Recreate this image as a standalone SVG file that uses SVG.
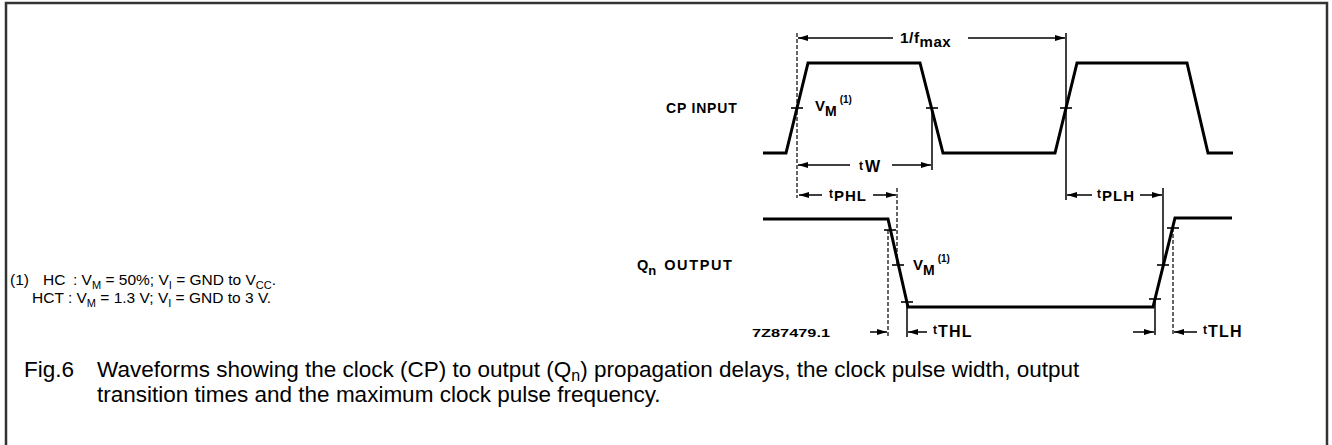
<svg xmlns="http://www.w3.org/2000/svg" width="1332" height="445" viewBox="0 0 1332 445">
<style>
.frame{fill:none;stroke:#333;stroke-width:2.5}
.wave{fill:none;stroke:#000;stroke-width:3;stroke-linejoin:miter}
.dim{fill:none;stroke:#000;stroke-width:1.5}
.dash{fill:none;stroke:#000;stroke-width:1.2;stroke-dasharray:4 2}
.tick{fill:none;stroke:#000;stroke-width:1.6}
.lbl{font-family:"Liberation Sans",Arial,sans-serif;font-weight:bold;fill:#000}
.txt{font-family:"Liberation Sans",Arial,sans-serif;fill:#000}
</style>
<defs>
<marker id="ah" viewBox="0 0 10 6" refX="10" refY="3" markerWidth="10" markerHeight="6" markerUnits="userSpaceOnUse" orient="auto">
<path d="M0,0 L10,3 L0,6 Z" fill="#000"/>
</marker>
</defs>
<g id="frame">
<polyline class="frame" points="6,445 6,3 1327,3 1327,445"/>
</g>
<g id="cp-input">
<polyline class="wave" points="763,153 786,153 808,63 920,63 943,153 1055,153 1077,63 1187,63 1208,153 1233,153"/>
<line class="tick" x1="791" y1="108" x2="803" y2="108"/>
<line class="tick" x1="926" y1="108" x2="938" y2="108"/>
<line class="tick" x1="1060" y1="108" x2="1072" y2="108"/>
<text class="lbl" x="666" y="113" font-size="14" letter-spacing="0.8">CP INPUT</text>
<text class="lbl" x="815" y="111" font-size="15">V<tspan font-size="14" dy="5">M</tspan><tspan font-size="10" dx="3" dy="-13">(1)</tspan></text>
</g>
<g id="q-output">
<polyline class="wave" points="763,219 888,219 908,307 1153,307 1175,218 1232,218"/>
<line class="tick" x1="884" y1="230" x2="896" y2="230"/>
<line class="tick" x1="892" y1="265" x2="904" y2="265"/>
<line class="tick" x1="901" y1="302" x2="913" y2="302"/>
<line class="tick" x1="1167" y1="228" x2="1179" y2="228"/>
<line class="tick" x1="1157" y1="265" x2="1169" y2="265"/>
<line class="tick" x1="1149" y1="299" x2="1161" y2="299"/>
<text class="lbl" x="637" y="270" font-size="14.5">Q<tspan font-size="13" dy="5">n</tspan><tspan dx="8" dy="-5" letter-spacing="1.6">OUTPUT</tspan></text>
<text class="lbl" x="913" y="270" font-size="15">V<tspan font-size="14" dy="5">M</tspan><tspan font-size="10" dx="3" dy="-13">(1)</tspan></text>
</g>
<g id="connectors">
<line class="dash" x1="797" y1="33" x2="797" y2="198"/>
<line class="dim" x1="932" y1="108" x2="932" y2="170"/>
<line class="dim" x1="1066" y1="33" x2="1066" y2="200"/>
<line class="dim" x1="1163" y1="188" x2="1163" y2="265"/>
<line class="dash" x1="897" y1="188" x2="897" y2="265"/>
<line class="dash" x1="888" y1="230" x2="888" y2="337"/>
<line class="dim" x1="907" y1="302" x2="907" y2="337"/>
<line class="dim" x1="1155" y1="299" x2="1155" y2="335"/>
<line class="dash" x1="1173" y1="228" x2="1173" y2="335"/>
<line class="dim" x1="893" y1="38" x2="798" y2="38" marker-end="url(#ah)"/>
<line class="dim" x1="968" y1="38" x2="1065" y2="38" marker-end="url(#ah)"/>
<line class="dim" x1="850" y1="165" x2="798" y2="165" marker-end="url(#ah)"/>
<line class="dim" x1="892" y1="165" x2="931" y2="165" marker-end="url(#ah)"/>
<line class="dim" x1="822" y1="195" x2="799" y2="195" marker-end="url(#ah)"/>
<line class="dim" x1="873" y1="195" x2="896" y2="195" marker-end="url(#ah)"/>
<line class="dim" x1="1092" y1="195" x2="1067" y2="195" marker-end="url(#ah)"/>
<line class="dim" x1="1140" y1="195" x2="1162" y2="195" marker-end="url(#ah)"/>
<line class="dim" x1="870" y1="332" x2="887" y2="332" marker-end="url(#ah)"/>
<line class="dim" x1="927" y1="332" x2="908" y2="332" marker-end="url(#ah)"/>
<line class="dim" x1="1133" y1="332" x2="1154" y2="332" marker-end="url(#ah)"/>
<line class="dim" x1="1197" y1="332" x2="1174" y2="332" marker-end="url(#ah)"/>
</g>
<g id="dim-labels">
<text class="lbl" x="900" y="43" font-size="15.5" letter-spacing="0.5">1/f<tspan font-size="15" dy="4">max</tspan></text>
<text class="lbl" x="859" y="170" font-size="12">t<tspan font-size="16" dx="2" dy="2">W</tspan></text>
<text class="lbl" x="829" y="198" font-size="12">t<tspan font-size="15" dx="1" dy="3" letter-spacing="1">PHL</tspan></text>
<text class="lbl" x="1097" y="198" font-size="12">t<tspan font-size="15" dx="1" dy="3" letter-spacing="1">PLH</tspan></text>
<text class="lbl" x="933" y="334" font-size="12">t<tspan font-size="16" dx="1" dy="3" letter-spacing="1.2">THL</tspan></text>
<text class="lbl" x="1203" y="334" font-size="12">t<tspan font-size="16" dx="1" dy="3" letter-spacing="1.2">TLH</tspan></text>
<text class="lbl" x="752" y="337" font-size="11" textLength="78" lengthAdjust="spacingAndGlyphs">7Z87479.1</text>
</g>
<g id="footnote">
<text class="txt" font-size="15.5" y="285"><tspan x="10">(1)</tspan><tspan x="43">HC</tspan><tspan x="73">: V</tspan><tspan font-size="11" dy="4">M</tspan><tspan dy="-4"> = 50%; V</tspan><tspan font-size="11" dy="4">I</tspan><tspan dy="-4"> = GND to V</tspan><tspan font-size="11" dy="4">CC</tspan><tspan dy="-4">.</tspan></text>
<text class="txt" font-size="15.5" y="303"><tspan x="32">HCT : V</tspan><tspan font-size="11" dy="4">M</tspan><tspan dy="-4"> = 1.3 V; V</tspan><tspan font-size="11" dy="4">I</tspan><tspan dy="-4"> = GND to 3 V.</tspan></text>
</g>
<g id="caption">
<text class="txt" font-size="22.5" x="24" y="377">Fig.6</text>
<text class="txt" font-size="22.5" x="97" y="377">Waveforms showing the clock (CP) to output (Q<tspan font-size="16" dy="4">n</tspan><tspan dy="-4">) propagation delays, the clock pulse width, output</tspan></text>
<text class="txt" font-size="22.5" x="97" y="402">transition times and the maximum clock pulse frequency.</text>
</g>
</svg>
